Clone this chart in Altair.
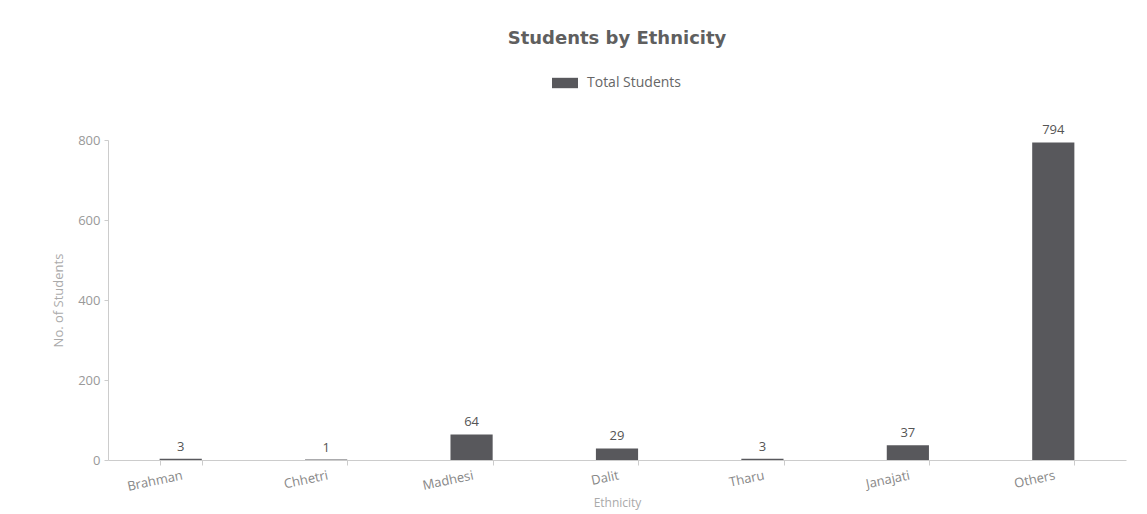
import altair as alt
import pandas as pd

categories = ["Brahman", "Chhetri", "Madhesi", "Dalit", "Tharu", "Janajati", "Others"]
students = [3, 1, 64, 29, 3, 37, 794]
series_name = "Total Students"
y_ticks = [0, 200, 400, 600, 800]

df = pd.DataFrame({"Ethnicity": categories, "Students": students, "Series": [series_name] * len(categories)})

bar_color = "#58585c"
label_font = "Open Sans"

base = alt.Chart(df)

x_enc = alt.X(
    "Ethnicity:N",
    sort=categories,
    scale=alt.Scale(paddingInner=0.71, paddingOuter=0.355),
    axis=alt.Axis(
        title="Ethnicity",
        titleFont=label_font,
        titleFontSize=12,
        titleFontWeight="normal",
        titleColor="#aaaaaa",
        titlePadding=4,
        labelAngle=348,
        labelAlign="right",
        labelBaseline="top",
        labelFont=label_font,
        labelFontSize=13,
        labelColor="#888888",
        labelPadding=4,
        domainColor="#cccccc",
        tickColor="#cccccc",
        tickSize=5,
        tickBand="extent",
        grid=False,
    ),
)

y_enc = alt.Y(
    "Students:Q",
    scale=alt.Scale(domain=[0, 800]),
    axis=alt.Axis(
        title="No. of Students",
        titleFont=label_font,
        titleFontSize=13,
        titleFontWeight="normal",
        titleColor="#aaaaaa",
        titlePadding=12,
        values=y_ticks,
        labelFont=label_font,
        labelFontSize=13,
        labelColor="#999999",
        labelPadding=4,
        domainColor="#cccccc",
        tickColor="#cccccc",
        tickSize=4,
        grid=False,
    ),
)

bars = base.mark_bar(color=bar_color).encode(
    x=x_enc,
    y=y_enc,
    color=alt.Color(
        "Series:N",
        scale=alt.Scale(range=[bar_color]),
        legend=alt.Legend(
            title=None,
            orient="none",
            legendX=444,
            legendY=-70,
            symbolType="M-1,-0.4H1V0.4H-1Z",
            symbolSize=676,
            symbolStrokeWidth=0,
            labelFont=label_font,
            labelFontSize=14,
            labelColor="#666666",
            labelOffset=9,
        ),
    ),
)

labels = base.mark_text(
    baseline="bottom", dy=-5, font=label_font, fontSize=13, color="#555555"
).encode(
    x=alt.X("Ethnicity:N", sort=categories),
    y="Students:Q",
    text="Students:Q",
)

chart = (
    alt.layer(bars, labels)
    .properties(
        width=1018,
        height=320,
        padding={"left": 100, "top": 132, "right": 13, "bottom": 52},
        autosize=alt.AutoSizeParams(type="none"),
        view=alt.ViewBackground(stroke="transparent", strokeWidth=0),
        title=alt.TitleParams(
            "Students by Ethnicity",
            font="DejaVu Sans",
            fontSize=18,
            fontWeight="bold",
            color="#5f5f5f",
            anchor="middle",
            offset=22,
        ),
    )
    .configure_view(stroke="transparent", strokeWidth=0)
    .configure(background="white")
)

chart.save("out.html", embed_options={"renderer": "svg", "actions": False})
